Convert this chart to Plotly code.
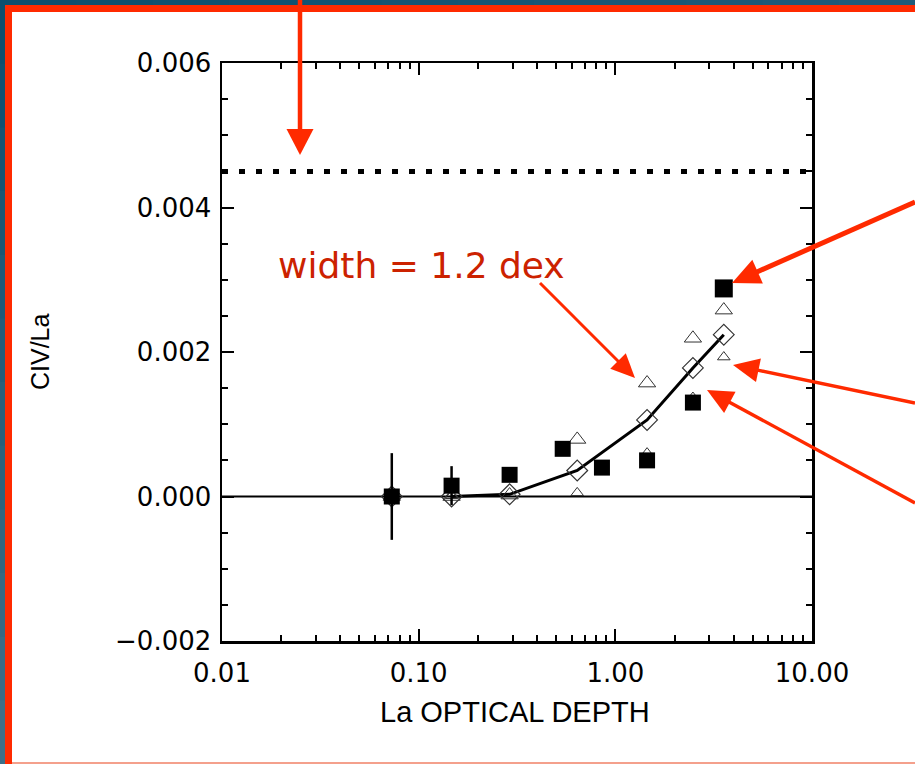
import plotly.graph_objects as go

# ---------------- data ----------------
data_x = [0.073, 0.147, 0.29, 0.54, 0.855, 1.45, 2.48, 3.56]
data_y = [0.0, 0.00015, 0.0003, 0.00066, 0.0004, 0.0005, 0.0013, 0.00288]
data_err = [0.0006, 0.00027, 0.0001, 0.0, 0.0, 0.00005, 0.00005, 0.0]
data_size = [16, 16, 16, 16, 16, 16, 16, 18]

model_x = [0.073, 0.147, 0.29, 0.64, 1.45, 2.48, 3.56]
diamond_y = [0.0, 0.0, 0.00003, 0.00036, 0.00106, 0.00178, 0.00224]
tri_big_y = [0.0, 0.0, 0.00002, 0.00079, 0.00157, 0.00219, 0.00258]
tri_small_y = [0.00002, 0.00001, 0.00033, 0.00005, 0.0006, 0.00137, 0.00193]

limit_y = 0.0045

x_tickvals = [0.01, 0.1, 1, 10]
x_ticktext = ["0.01", "0.10", "1.00", "10.00"]
y_tickvals = [-0.002, 0.0, 0.002, 0.004, 0.006]
y_ticktext = ["\u22120.002", "0.000", "0.002", "0.004", "0.006"]

# ---------------- layout geometry (pixels) ----------------
W, H = 915, 764
L, R, T, B = 222, 812, 63, 641


def px(x):
    return (x - L) / (R - L)


def py(y):
    return (B - y) / (B - T)


fig = go.Figure()

# dashed limit line
fig.add_trace(go.Scatter(x=[0.01, 10], y=[limit_y, limit_y], mode="lines",
                         line=dict(color="black", width=5, dash="6px,11px"),
                         hoverinfo="skip", showlegend=False))
# zero reference line
fig.add_trace(go.Scatter(x=[0.01, 10], y=[0, 0], mode="lines",
                         line=dict(color="black", width=2),
                         hoverinfo="skip", showlegend=False))
# fit line through diamonds
fig.add_trace(go.Scatter(x=model_x[1:], y=diamond_y[1:], mode="lines",
                         line=dict(color="black", width=3),
                         showlegend=False))
# small triangles
fig.add_trace(go.Scatter(x=model_x, y=tri_small_y, mode="markers",
                         marker=dict(symbol="triangle-up-open", size=11, opacity=1,
                                     color="#333333", line=dict(width=1)),
                         showlegend=False))
# big triangles
fig.add_trace(go.Scatter(x=model_x, y=tri_big_y, mode="markers",
                         marker=dict(symbol="triangle-up-open", size=15, opacity=1,
                                     color="#333333", line=dict(width=1)),
                         showlegend=False))
# diamonds
fig.add_trace(go.Scatter(x=model_x, y=diamond_y, mode="markers",
                         marker=dict(symbol="diamond-open", size=16, opacity=1,
                                     color="#333333", line=dict(width=1.2)),
                         showlegend=False))
# data squares with error bars
fig.add_trace(go.Scatter(x=data_x, y=data_y, mode="markers",
                         marker=dict(symbol="square", size=data_size, color="black",
                                     opacity=1, line=dict(width=0)),
                         error_y=dict(type="data", array=data_err, visible=True,
                                      color="black", thickness=2.5, width=0),
                         showlegend=False))

tickfont = dict(family="DejaVu Sans", size=26, color="black")
minor_x = [m * 10 ** e for e in (-2, -1, 0) for m in range(2, 10)]

fig.update_xaxes(type="log", range=[-2, 1], tickmode="array",
                 tickvals=x_tickvals, ticktext=x_ticktext,
                 ticks="inside", ticklen=12, tickwidth=2, tickcolor="black",
                 showline=True, linecolor="black", linewidth=2.5, mirror="allticks",
                 showgrid=False, zeroline=False, tickfont=tickfont,
                 ticklabelstandoff=7,
                 minor=dict(tickmode="array", tickvals=minor_x, ticks="inside",
                            ticklen=6, tickwidth=2, tickcolor="black", showgrid=False))
fig.update_yaxes(range=[-0.002, 0.006], tickmode="array",
                 tickvals=y_tickvals, ticktext=y_ticktext,
                 ticks="inside", ticklen=12, tickwidth=2, tickcolor="black",
                 showline=True, linecolor="black", linewidth=2.5, mirror="allticks",
                 showgrid=False, zeroline=False,
                 tickfont=tickfont, ticklabelstandoff=3,
                 minor=dict(dtick=0.0005, ticks="inside", ticklen=6, tickwidth=2,
                            tickcolor="black", showgrid=False))

shapes = []
RED = "#ff2a00"


def rect(x0, y0, x1, y1, color):
    shapes.append(dict(type="rect", xref="paper", yref="paper",
                       x0=px(x0), x1=px(x1), y0=py(y0), y1=py(y1),
                       fillcolor=color, line=dict(width=0), layer="above"))


def arrow(sx, sy, tx, ty, lw, hl, hw):
    dx, dy = sx - tx, sy - ty
    n = (dx * dx + dy * dy) ** 0.5
    ux, uy = dx / n, dy / n
    bx, by = tx + ux * hl, ty + uy * hl
    nx, ny = -uy, ux
    shapes.append(dict(type="line", xref="paper", yref="paper",
                       x0=px(sx), y0=py(sy), x1=px(bx - ux * 2), y1=py(by - uy * 2),
                       line=dict(color=RED, width=lw), layer="above"))
    p = "M {},{} L {},{} L {},{} Z".format(
        px(tx), py(ty), px(bx + nx * hw), py(by + ny * hw),
        px(bx - nx * hw), py(by - ny * hw))
    shapes.append(dict(type="path", xref="paper", yref="paper", path=p,
                       fillcolor=RED, line=dict(width=0), layer="above"))


# slide frame: blue edges with gradient, red bars
blue_top = (12, 79, 111)
blue_bot = (62, 111, 136)
nseg = 12
for i in range(nseg):
    f = i / (nseg - 1)
    c = tuple(int(blue_top[k] + (blue_bot[k] - blue_top[k]) * f) for k in range(3))
    rect(0, H * i / nseg, 5, H * (i + 1) / nseg + 1, "rgb(%d,%d,%d)" % c)
for i in range(nseg):
    f = i / (nseg - 1)
    c = (int(12 + 20 * f), int(79 + 12 * f), int(111 + 10 * f))
    rect(W * i / nseg, 0, W * (i + 1) / nseg + 1, 5, "rgb(%d,%d,%d)" % c)
rect(5, 5, W, 12, RED)
rect(5, 5, 12, H, RED)
rect(12, 762, W, H, "#f4a08c")

# arrows
arrow(300, 0, 300, 155, 4.5, 26, 13.5)
arrow(540, 283, 635, 378, 3, 24, 11)
arrow(915, 202, 732, 283, 5, 28, 13)
arrow(915, 403, 733, 365, 3.5, 26, 12)
arrow(915, 503, 707, 390, 3.5, 26, 12)

fig.update_layout(shapes=shapes)

annotations = [
    dict(text="width = 1.2 dex", xref="paper", yref="paper", x=px(421), y=py(265),
         showarrow=False, xanchor="center", yanchor="middle",
         font=dict(family="DejaVu Sans", size=36, color="#cc2200")),
    dict(text="CIV/La", xref="paper", yref="paper", x=px(40), y=py(352),
         showarrow=False, xanchor="center", yanchor="middle", textangle=-90,
         font=dict(family="Liberation Sans", size=25, color="black")),
    dict(text="La OPTICAL DEPTH", xref="paper", yref="paper", x=px(515), y=py(712),
         showarrow=False, xanchor="center", yanchor="middle",
         font=dict(family="Liberation Sans", size=29, color="black")),
]

fig.update_layout(width=W, height=H,
                  margin=dict(l=L, r=W - R, t=T, b=H - B, pad=0),
                  paper_bgcolor="white", plot_bgcolor="white",
                  hovermode=False,
                  annotations=annotations, showlegend=False)

fig.write_html("out.html", config={"displayModeBar": False, "staticPlot": True},
               post_script="document.body.style.margin='0';document.body.style.overflow='hidden';")
